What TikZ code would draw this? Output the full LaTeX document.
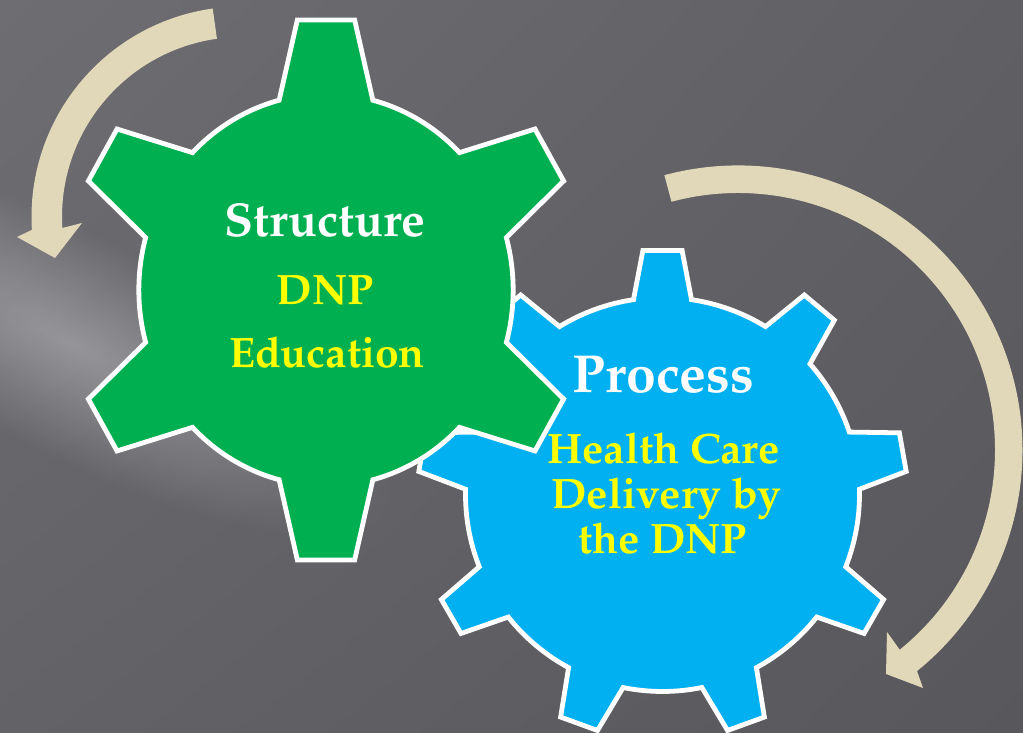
\documentclass[tikz,border=0pt]{standalone}
\usepackage[T1]{fontenc}
\usepackage{mathpazo}
\usepackage{tikz}
\usetikzlibrary{calc}
\usetikzlibrary{fadings,shadings}

\definecolor{cogGreen}{HTML}{00B050}
\definecolor{cogBlue}{HTML}{00B0F0}
\definecolor{loopTan}{HTML}{E1D8B9}
\definecolor{txtYellow}{HTML}{FFFF00}
\definecolor{bgUL}{HTML}{6E6D72}
\definecolor{bgUR}{HTML}{605F64}
\definecolor{bgLL}{HTML}{636267}
\definecolor{bgLR}{HTML}{58575C}
\tikzfading[name=glow, inner color=transparent!0, outer color=transparent!100]

\begin{document}
\begin{tikzpicture}
	[x=1pt, y=1pt,
	cog/.style = {draw=white, line width=4.8pt},
	head/.style = {text=white, font=\fontsize{47.5}{47.5}\selectfont\bfseries, anchor=base, inner sep=0pt},
	sub/.style = {text=txtYellow, font=\fontsize{42.5}{42.5}\selectfont\bfseries, anchor=base, inner sep=0pt},
	loop/.style = {fill=loopTan}]
	\useasboundingbox (0,0) rectangle (1023,733);
	% background
	\shade[upper left=bgUL, upper right=bgUR, lower left=bgLL, lower right=bgLR] (0,0) rectangle (1023,733);
	\begin{scope}[transform canvas={shift={(70,390)}, rotate=-28}]
		\fill[white, fill opacity=0.3, path fading=glow] (0,0) ellipse [x radius=360, y radius=110];
	\end{scope}
	% arrows
	\coordinate (lc) at (242,516);
	\coordinate (rc) at (738,283);
	\fill[loop] ($(lc)+(98:210.5)$) arc[start angle=98, end angle=183.5, radius=210.5]
		-- (17,496) -- (55,475) -- (82,510)
		-- ($(lc)+(183.5:180)$) arc[start angle=183.5, end angle=98, radius=180] -- cycle;
	\fill[loop] ($(rc)+(105:284.5)$) arc[start angle=105, end angle=-51, radius=284.5]
		-- (923,45) -- (886,59) -- (887,101)
		-- ($(rc)+(-51:257)$) arc[start angle=-51, end angle=105, radius=257] -- cycle;
	% gears
	\draw[cog, fill=cogBlue, shift={(662.5,238.5)}] (81.53:197)
		\foreach \a in {90,130,...,410} {
			-- ([rotate=\a]244,-19.6) -- ([rotate=\a]244,19.6) -- (\a+8.47:197)
			arc[start angle=\a+8.47, end angle=\a+31.53, radius=197]
		} -- cycle;
	\draw[cog, fill=cogGreen, shift={(326,443)}, xscale=0.955] (75.5:196)
		\foreach \a in {90,150,...,390} {
			-- ([rotate=\a]270,-30) -- ([rotate=\a]270,30) -- (\a+14.5:196)
			arc[start angle=\a+14.5, end angle=\a+45.5, radius=196]
		} -- cycle;
	% labels
	\node[head] (structure) at (325,496) {Structure};
	\node[sub] (dnp) at ([yshift=-68pt]structure.base) {DNP};
	\node[sub] (education) at ([xshift=2pt, yshift=-63pt]dnp.base) {Education};
	\node[head, font=\fontsize{53.5}{53.5}\selectfont\bfseries] (process) at (663.5,340) {Process};
	\node[sub] (health) at ([yshift=-71pt]process.base) {Health Care};
	\node[sub] (delivery) at ([xshift=3pt, yshift=-45pt]health.base) {Delivery by};
	\node[sub] (thednp) at ([xshift=-4pt, yshift=-45pt]delivery.base) {the DNP};
\end{tikzpicture}
\end{document}
